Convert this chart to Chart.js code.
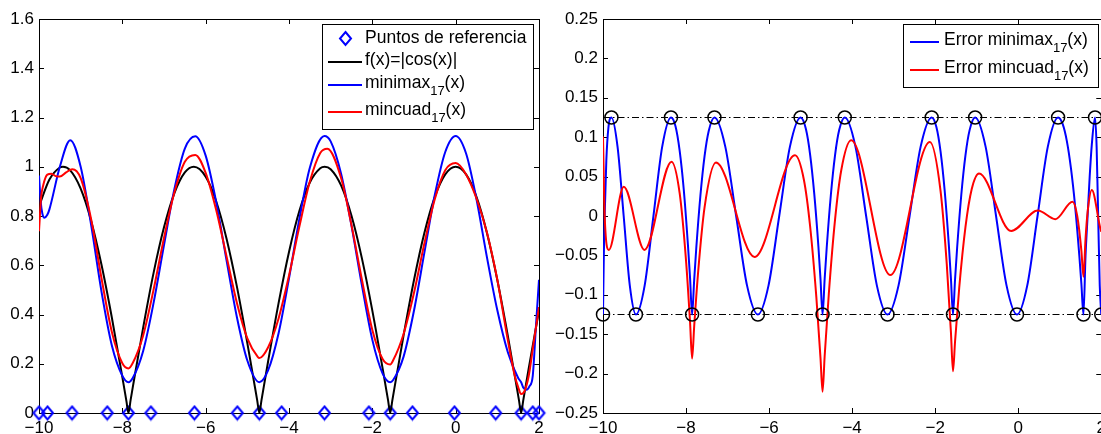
<!DOCTYPE html>
<html>
<head>
<meta charset="utf-8">
<script src="https://cdn.jsdelivr.net/npm/chart.js"></script>
<style>
  html, body { margin: 0; padding: 0; background: #fff; overflow: hidden; }
  #lienzo { position: relative; width: 1101px; height: 434px; overflow: hidden; }
  #izq { position: absolute; left: 0; top: 0; }
  #der { position: absolute; left: 551px; top: 0; }
</style>
</head>
<body>
<div id="lienzo">
  <canvas id="izq" width="551" height="434"></canvas>
  <canvas id="der" width="560" height="434"></canvas>
</div>
<script>
// nodos de referencia (alternancia del minimax)
const refX = [-10, -9.797, -9.207, -8.363, -7.854, -7.316, -6.27, -5.241, -4.712, -4.177, -3.148, -2.084, -1.571, -1.038, -0.03, 0.96, 1.571, 1.85, 2];
const refY = [0, 0, 0, 0, 0, 0, 0, 0, 0, 0, 0, 0, 0, 0, 0, 0, 0, 0, 0];
const refErr = [-0.125, 0.125, -0.125, 0.125, -0.125, 0.125, -0.125, 0.125, -0.125, 0.125, -0.125, 0.125, -0.125, 0.125, -0.125, 0.125, -0.125, 0.125, -0.125];

// f(x)=|cos(x)|
const fX = [-10, -9.75, -9.5, -9.425, -9.25, -9, -8.75, -8.5, -8.25, -8, -7.9, -7.854, -7.8, -7.75, -7.5, -7.25, -7, -6.75, -6.5, -6.283, -6, -5.75, -5.5, -5.25, -5, -4.762, -4.712, -4.662, -4.5, -4.25, -4, -3.75, -3.5, -3.25, -3.142, -3, -2.75, -2.5, -2.25, -2, -1.75, -1.621, -1.571, -1.521, -1.25, -1, -0.75, -0.5, -0.25, 0, 0.25, 0.5, 0.75, 1, 1.25, 1.521, 1.571, 1.621, 1.75, 2];
const fY = [0.839, 0.948, 0.997, 1, 0.985, 0.911, 0.781, 0.602, 0.386, 0.146, 0.046, 0, 0.054, 0.104, 0.347, 0.569, 0.754, 0.893, 0.977, 1, 0.960, 0.861, 0.709, 0.513, 0.284, 0.05, 0, 0.05, 0.211, 0.446, 0.654, 0.821, 0.936, 0.994, 1, 0.990, 0.924, 0.801, 0.628, 0.416, 0.178, 0.05, 0, 0.05, 0.315, 0.540, 0.732, 0.878, 0.969, 1, 0.969, 0.878, 0.732, 0.540, 0.315, 0.05, 0, 0.05, 0.178, 0.416];

// minimax grado 17
const minimaxX = [-10, -9.96, -9.92, -9.87, -9.8, -9.75, -9.5, -9.25, -9, -8.75, -8.5, -8.25, -8, -7.854, -7.75, -7.5, -7.25, -7, -6.75, -6.5, -6.25, -6, -5.75, -5.5, -5.25, -5, -4.712, -4.5, -4.25, -4, -3.75, -3.5, -3.15, -3, -2.75, -2.5, -2.25, -2, -1.75, -1.571, -1.5, -1.25, -1, -0.75, -0.5, -0.25, 0, 0.25, 0.5, 0.75, 1, 1.25, 1.5, 1.571, 1.62, 1.7, 1.77, 1.85, 1.925, 2];
const minimaxY = [0.964, 0.86, 0.81, 0.793, 0.805, 0.827, 1.0, 1.108, 1.0, 0.765, 0.493, 0.273, 0.151, 0.125, 0.142, 0.252, 0.447, 0.682, 0.910, 1.074, 1.124, 1.045, 0.859, 0.621, 0.389, 0.213, 0.125, 0.174, 0.324, 0.547, 0.789, 0.996, 1.125, 1.103, 0.972, 0.760, 0.518, 0.297, 0.159, 0.125, 0.134, 0.229, 0.416, 0.652, 0.886, 1.060, 1.125, 1.054, 0.868, 0.633, 0.417, 0.248, 0.142, 0.125, 0.104, 0.094, 0.108, 0.151, 0.347, 0.541];

// minimos cuadrados grado 17
const mincuadX = [-10, -9.95, -9.9, -9.8, -9.7, -9.6, -9.5, -9.35, -9.2, -9, -8.75, -8.5, -8.25, -8, -7.854, -7.75, -7.5, -7.25, -7, -6.75, -6.5, -6.25, -6, -5.75, -5.5, -5.25, -5, -4.75, -4.712, -4.5, -4.25, -4, -3.75, -3.5, -3.25, -3.08, -2.75, -2.5, -2.25, -2, -1.75, -1.571, -1.5, -1.25, -1, -0.75, -0.5, -0.25, 0, 0.25, 0.5, 0.75, 1, 1.25, 1.421, 1.5, 1.571, 1.65, 1.75, 1.85, 2];
const mincuadY = [0.738, 0.875, 0.924, 0.968, 0.972, 0.962, 0.960, 0.977, 0.990, 0.954, 0.788, 0.547, 0.328, 0.202, 0.181, 0.203, 0.315, 0.501, 0.711, 0.896, 1.020, 1.048, 0.975, 0.826, 0.637, 0.447, 0.303, 0.228, 0.223, 0.267, 0.384, 0.558, 0.758, 0.940, 1.056, 1.073, 0.954, 0.763, 0.541, 0.337, 0.218, 0.197, 0.214, 0.321, 0.488, 0.689, 0.869, 0.986, 1.015, 0.969, 0.871, 0.733, 0.541, 0.298, 0.149, 0.105, 0.077, 0.088, 0.148, 0.259, 0.43];

// errores
const errMinimaxX = [-10, -9.98, -9.96, -9.92, -9.87, -9.797, -9.65, -9.502, -9.355, -9.207, -8.996, -8.785, -8.574, -8.363, -8.254, -8.154, -8.054, -7.954, -7.904, -7.854, -7.804, -7.754, -7.654, -7.554, -7.454, -7.316, -7.055, -6.793, -6.532, -6.27, -6.013, -5.756, -5.498, -5.241, -5.112, -5.012, -4.912, -4.812, -4.762, -4.712, -4.662, -4.612, -4.512, -4.412, -4.312, -4.177, -3.92, -3.663, -3.405, -3.148, -2.882, -2.616, -2.35, -2.084, -1.971, -1.871, -1.771, -1.671, -1.621, -1.571, -1.521, -1.471, -1.371, -1.271, -1.171, -1.038, -0.786, -0.534, -0.282, -0.03, 0.218, 0.465, 0.713, 0.96, 1.071, 1.171, 1.271, 1.371, 1.471, 1.521, 1.571, 1.621, 1.671, 1.721, 1.771, 1.85, 1.888, 1.925, 1.963, 2];
const errMinimaxY = [-0.125, -0.05, 0, 0.07, 0.112, 0.125, 0.088, 0, -0.088, -0.125, -0.088, 0, 0.088, 0.125, 0.114, 0.083, 0.033, -0.037, -0.078, -0.125, -0.081, -0.041, 0.026, 0.076, 0.108, 0.125, 0.088, 0, -0.088, -0.125, -0.088, 0, 0.088, 0.125, 0.110, 0.078, 0.028, -0.039, -0.080, -0.125, -0.080, -0.040, 0.027, 0.077, 0.109, 0.125, 0.088, 0, -0.088, -0.125, -0.088, 0, 0.088, 0.125, 0.113, 0.082, 0.032, -0.037, -0.079, -0.125, -0.080, -0.040, 0.027, 0.077, 0.109, 0.125, 0.088, 0, -0.088, -0.125, -0.088, 0, 0.088, 0.125, 0.1165, 0.095, 0.060, 0.012, -0.050, -0.086, -0.125, -0.05, 0, 0.05, 0.09, 0.125, 0.088, 0, -0.088, -0.125];

const errMincuadX = [-10, -9.96, -9.86, -9.5, -9, -8.35, -8.154, -8.004, -7.904, -7.854, -7.804, -7.704, -7.554, -7.28, -6.35, -5.376, -5.162, -5.012, -4.862, -4.762, -4.712, -4.662, -4.562, -4.412, -4.262, -4.025, -3.08, -2.127, -1.871, -1.721, -1.621, -1.571, -1.521, -1.421, -1.271, -1.121, -0.945, -0.17, 0.473, 0.894, 1.308, 1.421, 1.521, 1.571, 1.621, 1.671, 1.772, 1.97, 2];
const errMincuadY = [0.101, 0, -0.043, 0.037, -0.043, 0.069, 0.029, -0.054, -0.134, -0.181, -0.140, -0.068, 0.011, 0.068, -0.052, 0.077, 0.046, -0.013, -0.103, -0.180, -0.223, -0.178, -0.099, -0.005, 0.058, 0.096, -0.075, 0.094, 0.032, -0.061, -0.147, -0.197, -0.159, -0.091, -0.014, 0.034, 0.054, -0.019, 0.007, -0.004, 0.018, 0, -0.044, -0.077, -0.029, 0.005, 0.033, -0.014, -0.02];

// niveles +-E
const nivelX = [-10, 2];
const nivelSup = [0.125, 0.125];
const nivelInf = [-0.125, -0.125];

// ticks
const xTicks = [-10, -8, -6, -4, -2, 0, 2];
const yTicksIzq = [0, 0.2, 0.4, 0.6, 0.8, 1, 1.2, 1.4, 1.6];
const yTicksDer = [-0.25, -0.2, -0.15, -0.1, -0.05, 0, 0.05, 0.1, 0.15, 0.2, 0.25];

const FUENTE = '"Liberation Sans", Arial, Helvetica, sans-serif';
const AZUL = '#0000ff';
const ROJO = '#ff0000';

function pts(xs, ys) {
    return xs.map((x, i) => ({ x: x, y: ys[i] }));
}

function rombo(w, h, color) {
    const c = document.createElement('canvas');
    c.width = w + 4;
    c.height = h + 4;
    const g = c.getContext('2d');
    g.strokeStyle = color;
    g.lineWidth = 2;
    g.beginPath();
    g.moveTo(c.width / 2, 2);
    g.lineTo(c.width - 2, c.height / 2);
    g.lineTo(c.width / 2, c.height - 2);
    g.lineTo(2, c.height / 2);
    g.closePath();
    g.stroke();
    return c;
}

function etiqueta(v) {
    return String(v).replace('-', '\u2212');
}

// caja de ejes con ticks hacia dentro (estilo matlab)
const marcoEjes = {
    id: 'marcoEjes',
    beforeDatasetsDraw(chart) {
        const ctx = chart.ctx;
        const a = chart.chartArea;
        const sx = chart.scales.x, sy = chart.scales.y;
        const L = 5;
        ctx.save();
        ctx.strokeStyle = '#000';
        ctx.lineWidth = 1;
        ctx.beginPath();
        sx.ticks.forEach(t => {
            const p = Math.round(sx.getPixelForValue(t.value)) + 0.5;
            ctx.moveTo(p, a.bottom); ctx.lineTo(p, a.bottom - L);
            ctx.moveTo(p, a.top); ctx.lineTo(p, a.top + L);
        });
        sy.ticks.forEach(t => {
            const p = Math.round(sy.getPixelForValue(t.value)) + 0.5;
            ctx.moveTo(a.left, p); ctx.lineTo(a.left + L, p);
            ctx.moveTo(a.right, p); ctx.lineTo(a.right - L, p);
        });
        ctx.stroke();
        ctx.strokeRect(Math.round(a.left) + 0.5, Math.round(a.top) + 0.5,
            Math.round(a.right - a.left), Math.round(a.bottom - a.top));
        ctx.restore();
    }
};

function textoConSub(ctx, s, x, y) {
    const m = s.match(/^(.*)_\{(.*)\}(.*)$/);
    ctx.fillStyle = '#000';
    ctx.textBaseline = 'middle';
    ctx.textAlign = 'left';
    ctx.font = '17.5px ' + FUENTE;
    if (!m) { ctx.fillText(s, x, y); return; }
    ctx.fillText(m[1], x, y);
    x += ctx.measureText(m[1]).width;
    ctx.font = '13px ' + FUENTE;
    ctx.fillText(m[2], x, y + 8);
    x += ctx.measureText(m[2]).width;
    ctx.font = '17.5px ' + FUENTE;
    ctx.fillText(m[3], x, y);
}

const leyendaCaja = {
    id: 'leyendaCaja',
    afterDraw(chart, args, o) {
        const ctx = chart.ctx;
        ctx.save();
        ctx.fillStyle = '#fff';
        ctx.fillRect(o.x, o.y, o.w, o.h);
        ctx.strokeStyle = '#000';
        ctx.lineWidth = 1;
        ctx.strokeRect(o.x + 0.5, o.y + 0.5, o.w, o.h);
        const items = chart.data.datasets.filter(d => d.enLeyenda);
        items.forEach((ds, i) => {
            const cy = o.filas[i];
            if (ds.showLine === false) {
                const img = ds.pointStyle;
                const cx = (o.muestra[0] + o.muestra[1]) / 2;
                ctx.drawImage(img, Math.round(cx - img.width / 2), Math.round(cy - img.height / 2));
            } else {
                ctx.strokeStyle = ds.borderColor;
                ctx.lineWidth = 2;
                ctx.beginPath();
                ctx.moveTo(o.muestra[0], cy + 2);
                ctx.lineTo(o.muestra[1], cy + 2);
                ctx.stroke();
            }
            textoConSub(ctx, ds.label, o.texto, cy);
        });
        ctx.restore();
    }
};

function escalas(yMin, yMax, yTicks, yAncho) {
    return {
        x: {
            type: 'linear',
            min: -10,
            max: 2,
            grid: { display: false, drawTicks: false },
            border: { display: false },
            afterBuildTicks: s => { s.ticks = xTicks.map(v => ({ value: v })); },
            afterFit: s => { s.height = 21; },
            ticks: {
                autoSkip: false,
                maxRotation: 0,
                padding: 5,
                color: '#000',
                font: { family: FUENTE, size: 17 },
                callback: v => etiqueta(v)
            }
        },
        y: {
            type: 'linear',
            min: yMin,
            max: yMax,
            grid: { display: false, drawTicks: false },
            border: { display: false },
            afterBuildTicks: s => { s.ticks = yTicks.map(v => ({ value: v })); },
            afterFit: s => { s.width = yAncho; },
            ticks: {
                autoSkip: false,
                padding: 5,
                color: '#000',
                font: { family: FUENTE, size: 17 },
                callback: v => etiqueta(v)
            }
        }
    };
}

window.addEventListener('load', function() {
    if (typeof Chart === 'undefined') {
        console.error('Chart.js no está cargado');
        return;
    }

    const diamante = rombo(11, 13, AZUL);

    new Chart(document.getElementById('izq'), {
        type: 'line',
        data: {
            datasets: [
                {
                    label: 'Puntos de referencia',
                    data: pts(refX, refY),
                    showLine: false,
                    pointStyle: diamante,
                    pointRadius: 6,
                    borderColor: AZUL,
                    clip: false,
                    order: 4,
                    enLeyenda: true
                },
                {
                    label: 'f(x)=|cos(x)|',
                    data: pts(fX, fY),
                    borderColor: '#000',
                    borderWidth: 2,
                    pointRadius: 0,
                    cubicInterpolationMode: 'monotone',
                    order: 3,
                    enLeyenda: true
                },
                {
                    label: 'minimax_{17}(x)',
                    data: pts(minimaxX, minimaxY),
                    borderColor: AZUL,
                    borderWidth: 2,
                    pointRadius: 0,
                    cubicInterpolationMode: 'monotone',
                    order: 2,
                    enLeyenda: true
                },
                {
                    label: 'mincuad_{17}(x)',
                    data: pts(mincuadX, mincuadY),
                    borderColor: ROJO,
                    borderWidth: 2,
                    pointRadius: 0,
                    cubicInterpolationMode: 'monotone',
                    order: 1,
                    enLeyenda: true
                }
            ]
        },
        options: {
            responsive: false,
            animation: false,
            devicePixelRatio: 1,
            layout: { padding: { top: 19, right: 12, left: 0, bottom: 0 } },
            scales: escalas(0, 1.6, yTicksIzq, 39),
            plugins: {
                legend: { display: false },
                tooltip: { enabled: false },
                leyendaCaja: { x: 322, y: 24, w: 211, h: 105, filas: [38, 60, 83, 110], muestra: [328, 362], texto: 365 }
            }
        },
        plugins: [marcoEjes, leyendaCaja]
    });

    new Chart(document.getElementById('der'), {
        type: 'line',
        data: {
            datasets: [
                {
                    label: 'Error minimax_{17}(x)',
                    data: pts(errMinimaxX, errMinimaxY),
                    borderColor: AZUL,
                    borderWidth: 2,
                    pointRadius: 0,
                    cubicInterpolationMode: 'monotone',
                    order: 3,
                    enLeyenda: true
                },
                {
                    label: 'Error mincuad_{17}(x)',
                    data: pts(errMincuadX, errMincuadY),
                    borderColor: ROJO,
                    borderWidth: 2,
                    pointRadius: 0,
                    cubicInterpolationMode: 'monotone',
                    order: 2,
                    enLeyenda: true
                },
                {
                    label: 'E',
                    data: pts(nivelX, nivelSup),
                    borderColor: '#000',
                    borderWidth: 1,
                    borderDash: [7, 3, 1.5, 3],
                    pointRadius: 0,
                    order: 4
                },
                {
                    label: '-E',
                    data: pts(nivelX, nivelInf),
                    borderColor: '#000',
                    borderWidth: 1,
                    borderDash: [7, 3, 1.5, 3],
                    pointRadius: 0,
                    order: 4
                },
                {
                    label: 'nodos',
                    data: pts(refX, refErr),
                    showLine: false,
                    pointStyle: 'circle',
                    pointRadius: 6.5,
                    pointBorderWidth: 1.5,
                    borderColor: '#000',
                    backgroundColor: 'rgba(0,0,0,0)',
                    clip: false,
                    order: 1
                }
            ]
        },
        options: {
            responsive: false,
            animation: false,
            devicePixelRatio: 1,
            layout: { padding: { top: 19, right: 8, left: 0, bottom: 0 } },
            scales: escalas(-0.25, 0.25, yTicksDer, 52),
            plugins: {
                legend: { display: false },
                tooltip: { enabled: false },
                leyendaCaja: { x: 352, y: 24, w: 195, h: 63, filas: [40, 68], muestra: [359, 388], texto: 393 }
            }
        },
        plugins: [marcoEjes, leyendaCaja]
    });
});
</script>
</body>
</html>
